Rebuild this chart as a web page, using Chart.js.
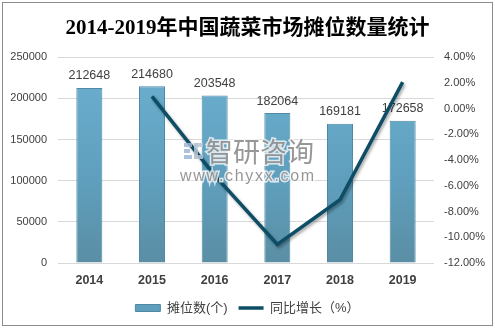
<!DOCTYPE html>
<html>
<head>
<meta charset="utf-8">
<script src="https://cdn.jsdelivr.net/npm/chart.js@4.4.1/dist/chart.umd.min.js"></script>
<style>
  html, body { margin: 0; padding: 0; background: #ffffff; }
  #wrap { width: 495px; height: 329px; position: relative; }
</style>
</head>
<body>
<div id="wrap"><canvas id="c" width="495" height="329"></canvas></div>
<script>
// Years on the category axis
const years = ['2014', '2015', '2016', '2017', '2018', '2019'];
// Number of market stalls (个)
const stalls = [212648, 214680, 203548, 182064, 169181, 172658];
// Year-on-year growth (%)
const growth = [null, 0.96, -5.19, -10.55, -7.08, 2.06];

const titleText = '2014-2019年中国蔬菜市场摊位数量统计';
const stallLabel = '摊位数(个)';
const growthLabel = '同比增长（%）';

const textColor = '#404040';
const lineColor = '#0d4d65';
const baseFont = "'Liberation Sans', 'Noto Sans CJK SC', sans-serif";

// Vertical shading for the bars
function barFill(ctx) {
  const area = ctx.chart.chartArea;
  if (!area) return '#64a6c6';
  const g = ctx.chart.ctx.createLinearGradient(0, area.top, 0, area.bottom);
  g.addColorStop(0, '#6cb0d0');
  g.addColorStop(0.6, '#5f9fbd');
  g.addColorStop(1, '#5a8ea4');
  return g;
}

// Frame around the whole figure
const framePlugin = {
  id: 'frame',
  beforeDraw(chart) {
    const c = chart.ctx;
    c.save();
    c.fillStyle = '#ffffff';
    c.fillRect(0, 0, chart.width, chart.height);
    c.strokeStyle = '#8c8c8c';
    c.lineWidth = 1;
    c.strokeRect(2.5, 2.5, 490, 323);
    c.restore();
  }
};

// Value labels above the bars (drawn before the line so the line passes over them)
const valueLabelPlugin = {
  id: 'valueLabels',
  afterDatasetDraw(chart, args) {
    if (args.index !== 0) return;
    const c = chart.ctx;
    c.save();
    c.font = '12.5px ' + baseFont;
    c.fillStyle = textColor;
    c.textAlign = 'center';
    c.textBaseline = 'middle';
    args.meta.data.forEach((bar, i) => {
      c.fillText(String(stalls[i]), bar.x, bar.y - 12);
    });
    c.restore();
  }
};

// Soft drop shadow under the growth line
const lineShadowPlugin = {
  id: 'lineShadow',
  beforeDatasetDraw(chart, args) {
    if (args.index !== 1) return;
    const c = chart.ctx;
    c.save();
    c.shadowColor = 'rgba(0,0,0,0.35)';
    c.shadowBlur = 3;
    c.shadowOffsetX = 1.5;
    c.shadowOffsetY = 2;
  },
  afterDatasetDraw(chart, args) {
    if (args.index !== 1) return;
    chart.ctx.restore();
  }
};

// Publisher mark in the middle of the plot
const markPlugin = {
  id: 'mark',
  afterDraw(chart) {
    const c = chart.ctx;
    c.save();
    c.globalAlpha = 0.85;
    // small logo
    c.fillStyle = '#9fb6d6';
    c.fillRect(184, 143, 8, 4);
    c.fillRect(184, 149, 6, 4);
    c.fillRect(184, 155, 8, 4);
    c.fillStyle = '#b9c3d3';
    c.fillRect(194, 143, 9, 4);
    c.fillRect(194, 143, 4, 16);
    c.fillRect(194, 155, 9, 4);
    // name
    c.font = "27px 'Noto Sans CJK SC', sans-serif";
    c.textBaseline = 'middle';
    c.textAlign = 'left';
    c.lineWidth = 3;
    c.strokeStyle = 'rgba(255,255,255,0.9)';
    c.strokeText('智研咨询', 206, 152);
    c.fillStyle = '#858585';
    c.fillText('智研咨询', 206, 152);
    // site
    c.font = '16px ' + baseFont;
    c.letterSpacing = '1.7px';
    c.strokeText('www.chyxx.com', 180, 177);
    c.fillText('www.chyxx.com', 180, 177);
    c.restore();
  }
};

new Chart(document.getElementById('c'), {
  data: {
    labels: years,
    datasets: [
      {
        type: 'bar',
        label: stallLabel,
        data: stalls,
        yAxisID: 'y',
        order: 2,
        backgroundColor: barFill,
        borderColor: '#4f89a3',
        borderWidth: 1,
        barPercentage: 0.415,
        categoryPercentage: 1
      },
      {
        type: 'line',
        label: growthLabel,
        data: growth,
        yAxisID: 'y1',
        order: 1,
        borderColor: lineColor,
        backgroundColor: lineColor,
        borderWidth: 3.5,
        tension: 0,
        pointRadius: 0,
        pointHoverRadius: 0,
        borderJoinStyle: 'miter',
        spanGaps: false
      }
    ]
  },
  options: {
    responsive: false,
    animation: false,
    events: [],
    layout: { padding: { left: 0, right: 0, top: 0, bottom: 4.5 } },
    plugins: {
      tooltip: { enabled: false },
      title: {
        display: true,
        text: titleText,
        color: '#000000',
        font: { family: "'Liberation Serif', 'Noto Sans CJK SC', serif", size: 21, weight: 'bold' },
        padding: { top: 16, bottom: 16 }
      },
      legend: {
        position: 'bottom',
        labels: {
          color: textColor,
          font: { family: baseFont, size: 13 },
          usePointStyle: true,
          pointStyleWidth: 25,
          boxHeight: 7,
          padding: 11,
          sort: (a, b) => a.datasetIndex - b.datasetIndex,
          generateLabels(chart) {
            return [
              {
                text: stallLabel, datasetIndex: 0, pointStyle: 'rect',
                fillStyle: '#5f9fbd', strokeStyle: '#4f89a3', lineWidth: 1,
                fontColor: textColor, hidden: false
              },
              {
                text: growthLabel, datasetIndex: 1, pointStyle: 'line',
                fillStyle: lineColor, strokeStyle: lineColor, lineWidth: 3.5,
                fontColor: textColor, hidden: false
              }
            ];
          }
        }
      }
    },
    scales: {
      x: {
        grid: { display: false, drawTicks: false },
        border: { display: false },
        ticks: {
          color: textColor,
          padding: 10,
          font: { family: baseFont, size: 12.5, weight: 'bold' }
        },
        afterFit(scale) { scale.height = 27.5; }
      },
      y: {
        position: 'left',
        min: 0,
        max: 250000,
        grid: { color: '#d9d9d9', drawTicks: false },
        border: { display: false },
        ticks: {
          stepSize: 50000,
          padding: 11,
          color: textColor,
          font: { family: baseFont, size: 11 },
          callback: v => String(v)
        },
        afterFit(scale) { scale.width = 58; }
      },
      y1: {
        position: 'right',
        min: -12,
        max: 4,
        grid: { display: false, drawTicks: false },
        border: { display: false },
        ticks: {
          stepSize: 2,
          padding: 10,
          color: textColor,
          font: { family: baseFont, size: 11 },
          callback: v => v.toFixed(2) + '%'
        },
        afterFit(scale) { scale.width = 61; }
      }
    }
  },
  plugins: [framePlugin, valueLabelPlugin, lineShadowPlugin, markPlugin]
});
</script>
</body>
</html>
